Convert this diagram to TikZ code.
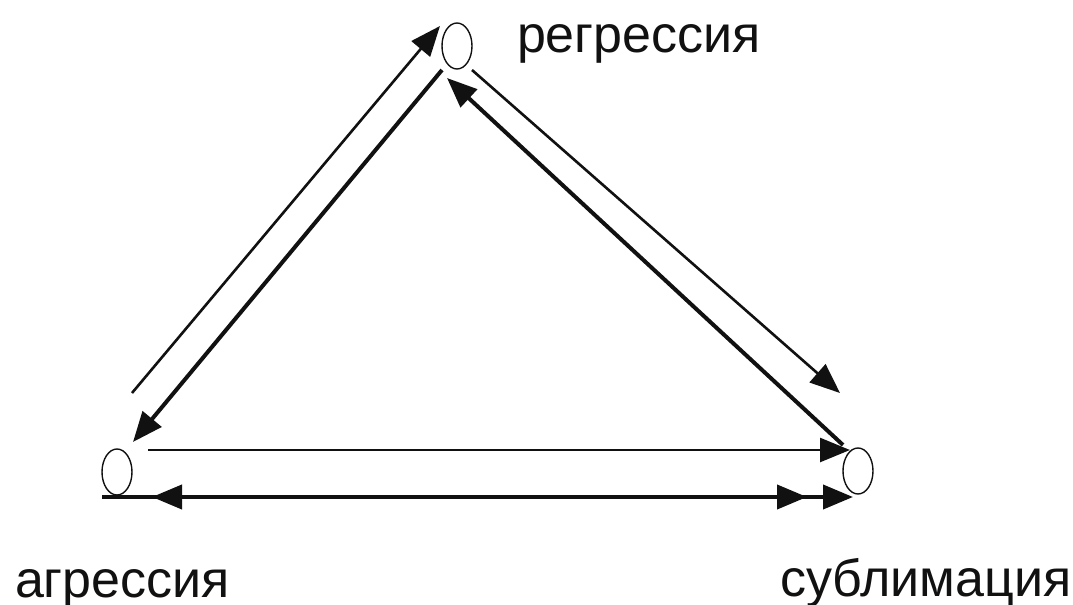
\documentclass[tikz,border=0pt]{standalone}
\usepackage{fontspec}
\setmainfont{Liberation Sans}
\usepackage{tikz}
\usetikzlibrary{positioning, shapes.geometric, arrows.meta, calc}
\usepackage{xcolor}
\definecolor{lineblack}{HTML}{111111}

\begin{document}
\begin{tikzpicture}[x=0.5pt, y=-0.5pt,
    >={Triangle[length=15pt,width=12pt]},
    state/.style={ellipse, draw=lineblack, line width=0.7pt,
                  minimum width=15pt, minimum height=23pt, inner sep=0pt},
    label/.style={anchor=base west, font=\fontsize{26}{30}\selectfont, color=lineblack},
    thinarrow/.style={->, color=lineblack, line width=1.3pt},
    thickarrow/.style={->, color=lineblack, line width=2pt}]
      \useasboundingbox (0,0) rectangle (1073,605);
      % three states
      \node[state] (reg) at (457,46) {};
      \node[state] (agr) at (117,472) {};
      \node[state] (sub) at (858,471) {};
      % their names
      \node[label] (reglabel) at (510,53) {регрессия};
      \node[label] (agrlabel) at (8,597) {агрессия};
      \node[label] (sublabel) at (773,596) {сублимация};
      % left side of the triangle
      \draw[thinarrow] ($(agr)+(15,-79)$) -- ($(reg)+(-17,-20)$);
      \draw[thickarrow] ($(reg)+(-15,24)$) -- ($(agr)+(16,-30)$);
      % right side
      \draw[thinarrow] ($(reg)+(15,24)$) -- ($(sub)+(-18,-78)$);
      \draw[thickarrow] ($(sub)+(-15,-26)$) -- ($(reg)+(-10,32)$);
      % bottom side
      \draw[thinarrow] ($(agr)+(31,-22)$) -- ($(sub)+(-8,-21)$);
      \draw[thickarrow, <->] ($(agr)+(35,25)$) -- ($(sub)+(-51,26)$);
      \draw[thickarrow] ($(agr)+(-15,25)$) -- ($(sub)+(-5,26)$);
    \end{tikzpicture}
\end{document}
